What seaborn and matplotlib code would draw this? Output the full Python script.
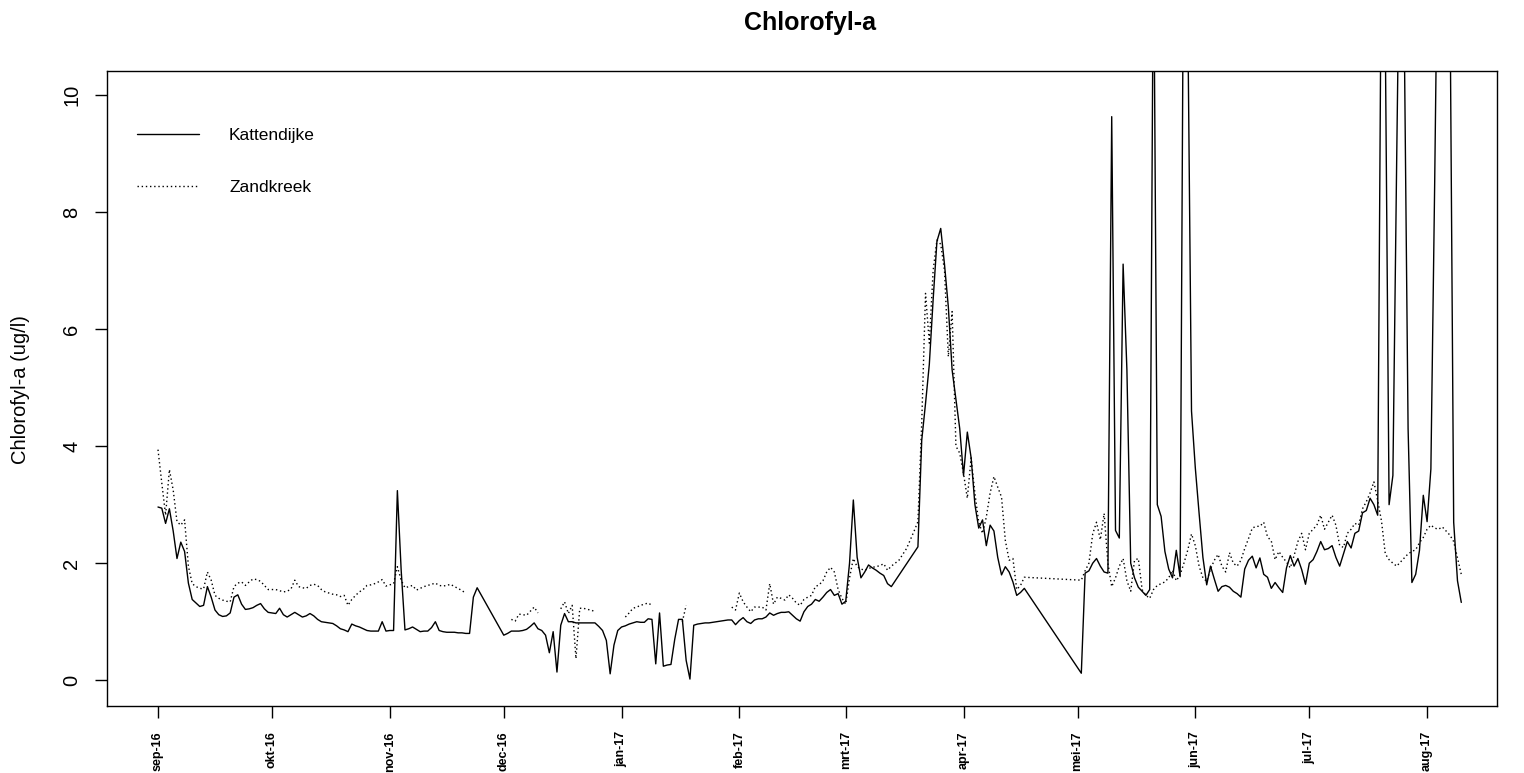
import numpy as np
import pandas as pd
import matplotlib
matplotlib.use("Agg")
import matplotlib.pyplot as plt
import seaborn as sns
from matplotlib.lines import Line2D

# ---------------- data ----------------
start_date = "2016-09-01"

kat_days = list(range(0, 85)) + list(range(91, 194)) + list(range(200, 229)) + list(range(243, 344))
kat_vals = [
    2.96, 2.94, 2.68, 2.93, 2.55, 2.08, 2.36, 2.20, 1.66, 1.38,
    1.32, 1.26, 1.28, 1.60, 1.42, 1.20, 1.12, 1.09, 1.10, 1.15,
    1.42, 1.46, 1.30, 1.21, 1.22, 1.24, 1.28, 1.31, 1.22, 1.16,
    1.15, 1.14, 1.23, 1.12, 1.08, 1.12, 1.16, 1.12, 1.08, 1.10,
    1.14, 1.10, 1.04, 1.00, 0.99, 0.98, 0.97, 0.93, 0.88, 0.86,
    0.83, 0.96, 0.93, 0.91, 0.88, 0.85, 0.84, 0.84, 0.84, 1.00,
    0.84, 0.85, 0.85, 3.24, 1.88, 0.86, 0.88, 0.91, 0.87, 0.83,
    0.84, 0.84, 0.90, 1.00, 0.85, 0.83, 0.82, 0.82, 0.82, 0.81,
    0.81, 0.80, 0.80, 1.42, 1.58,
    # 91 ..
    0.77, 0.80, 0.84, 0.84, 0.84, 0.85, 0.87, 0.92, 0.98, 0.88,
    0.85, 0.77, 0.47, 0.83, 0.14, 0.94, 1.14, 1.00, 1.00, 0.98,
    0.98, 0.98, 0.98, 0.98, 0.98, 0.92, 0.85, 0.68, 0.11, 0.60,
    0.85, 0.91, 0.93, 0.96, 0.98, 1.00, 0.99, 0.99, 1.05, 1.04,
    0.28, 1.15, 0.24, 0.26, 0.27, 0.70, 1.04, 1.04, 0.34, 0.02,
    0.94, 0.96, 0.97, 0.98, 0.98, 0.99, 1.00, 1.01, 1.02, 1.03,
    1.03, 0.95, 1.02, 1.07, 1.00, 0.97, 1.03, 1.05, 1.05, 1.08,
    1.15, 1.11, 1.14, 1.16, 1.16, 1.17, 1.11, 1.05, 1.01, 1.17,
    1.26, 1.30, 1.38, 1.35, 1.42, 1.50, 1.55, 1.45, 1.48, 1.30,
    1.35, 2.00, 3.08, 2.10, 1.75, 1.85, 1.97, 1.92, 1.88, 1.83,
    1.79, 1.65, 1.60,
    # 200 ..
    2.28, 4.10, 4.73, 5.40, 6.50, 7.50, 7.72, 7.10, 6.38, 5.30,
    4.80, 4.30, 3.50, 4.24, 3.80, 3.00, 2.60, 2.74, 2.30, 2.65,
    2.55, 2.10, 1.80, 1.94, 1.85, 1.68, 1.45, 1.50, 1.57,
    # 243 ..
    0.12, 1.83, 1.87, 2.00, 2.08, 1.95, 1.85, 1.83, 9.63, 2.56,
    2.43, 7.11, 5.30, 2.00, 1.75, 1.59, 1.52, 1.45, 1.55, 13.0,
    3.00, 2.80, 2.20, 1.90, 1.75, 2.22, 1.77, 14.0, 11.5, 4.60,
    3.63, 2.85, 2.10, 1.63, 1.95, 1.73, 1.52, 1.60, 1.62, 1.59,
    1.52, 1.48, 1.42, 1.90, 2.05, 2.12, 1.92, 2.09, 1.81, 1.76,
    1.57, 1.67, 1.58, 1.50, 1.92, 2.13, 1.95, 2.08, 1.89, 1.64,
    2.00, 2.06, 2.20, 2.37, 2.23, 2.25, 2.30, 2.10, 1.95, 2.16,
    2.37, 2.26, 2.51, 2.55, 2.86, 2.90, 3.11, 3.00, 2.82, 13.0,
    11.0, 3.00, 3.50, 8.90, 14.0, 11.0, 4.30, 1.67, 1.81, 2.22,
    3.16, 2.71, 3.61, 8.50, 14.0, 15.0, 15.0, 12.0, 2.70, 1.70,
    1.33,
]

nan = np.nan
zk_days = (list(range(0, 83)) + list(range(93, 102)) + list(range(106, 117)) +
           list(range(123, 132)) + list(range(138, 141)) + list(range(151, 229)) +
           list(range(243, 344)))
zk_vals = [
    3.94, 3.37, 2.82, 3.60, 3.25, 2.71, 2.65, 2.74, 1.95, 1.65,
    1.60, 1.57, 1.56, 1.85, 1.71, 1.45, 1.40, 1.37, 1.35, 1.34,
    1.60, 1.66, 1.68, 1.62, 1.68, 1.73, 1.72, 1.69, 1.62, 1.55,
    1.55, 1.55, 1.53, 1.51, 1.52, 1.56, 1.71, 1.60, 1.58, 1.57,
    1.62, 1.64, 1.62, 1.55, 1.51, 1.49, 1.47, 1.46, 1.43, 1.45,
    1.28, 1.38, 1.45, 1.51, 1.55, 1.62, 1.63, 1.65, 1.68, 1.72,
    1.61, 1.63, 1.65, 1.94, 1.71, 1.58, 1.60, 1.62, 1.54, 1.57,
    1.60, 1.62, 1.64, 1.66, 1.62, 1.61, 1.62, 1.64, 1.60, 1.57,
    1.53, 1.49, nan,
    # 93 ..
    1.04, 1.01, 1.13, 1.12, 1.11, 1.18, 1.25, 1.15, nan,
    # 106 ..
    1.22, 1.34, 1.14, 1.28, 0.37, 1.23, 1.23, 1.21, 1.20, 1.17, nan,
    # 123 ..
    1.08, 1.15, 1.23, 1.25, 1.28, 1.30, 1.32, 1.28, nan,
    # 138 ..
    1.00, 1.28, nan,
    # 151 ..
    1.25, 1.20, 1.49, 1.34, 1.25, 1.17, 1.25, 1.25, 1.25, 1.20,
    1.65, 1.30, 1.42, 1.40, 1.37, 1.46, 1.40, 1.32, 1.28, 1.38,
    1.42, 1.45, 1.60, 1.63, 1.70, 1.85, 1.93, 1.85, 1.55, 1.40,
    1.30, 1.75, 2.08, 1.94, 1.90, 1.88, 1.91, 1.93, 1.94, 1.96,
    1.99, 1.88, 1.95, 2.00, 2.05, 2.15, 2.25, 2.40, 2.55, 2.71,
    4.40, 6.61, 5.76, 7.00, 7.52, 7.45, 7.00, 5.53, 6.30, 4.00,
    3.88, 3.53, 3.11, 3.80, 3.19, 2.70, 2.51, 2.79, 3.20, 3.48,
    3.30, 3.13, 2.39, 2.05, 2.08, 1.55, 1.62, 1.76,
    # 243 ..
    1.71, 1.87, 2.00, 2.50, 2.70, 2.40, 2.85, 2.00, 1.60, 1.75,
    1.95, 2.08, 1.70, 1.52, 2.05, 2.08, 1.55, 1.45, 1.40, 1.55,
    1.62, 1.65, 1.68, 1.75, 1.88, 1.70, 1.80, 2.00, 2.22, 2.50,
    2.30, 1.95, 1.75, 1.69, 1.90, 2.05, 2.15, 1.95, 1.85, 2.18,
    2.00, 1.95, 2.05, 2.25, 2.42, 2.60, 2.63, 2.63, 2.70, 2.45,
    2.38, 2.06, 2.20, 2.10, 2.02, 1.92, 2.13, 2.37, 2.51, 2.23,
    2.51, 2.58, 2.65, 2.82, 2.58, 2.70, 2.82, 2.65, 2.30, 2.27,
    2.51, 2.58, 2.68, 2.65, 2.93, 3.05, 3.20, 3.39, 3.07, 2.72,
    2.16, 2.06, 2.00, 1.95, 2.02, 2.09, 2.16, 2.20, 2.23, 2.35,
    2.44, 2.58, 2.65, 2.60, 2.58, 2.62, 2.55, 2.48, 2.37, 2.09,
    1.81,
]

month_labels = ["sep-16", "okt-16", "nov-16", "dec-16", "jan-17", "feb-17",
                "mrt-17", "apr-17", "mei-17", "jun-17", "jul-17", "aug-17"]
y_ticks = [0, 2, 4, 6, 8, 10]
series_names = ["Kattendijke", "Zandkreek"]


def make_frame(days, vals):
    df = pd.DataFrame({
        "date": pd.Timestamp(start_date) + pd.to_timedelta(days, unit="D"),
        "value": np.asarray(vals, dtype=float),
    })
    df["seg"] = df["value"].isna().cumsum()
    return df.dropna()


kat = make_frame(kat_days, kat_vals)
zk = make_frame(zk_days, zk_vals)

# ---------------- plot ----------------
sns.set_theme(style="white")
plt.rcParams["font.family"] = ["Liberation Sans", "DejaVu Sans"]
plt.rcParams.update({
    "text.color": "black",
    "axes.labelcolor": "black",
    "xtick.color": "black",
    "ytick.color": "black",
    "axes.edgecolor": "black",
})

W, H = 1524, 773
fig = plt.figure(figsize=(W / 100, H / 100), dpi=100)
ax = fig.add_axes([107 / W, 1 - 706 / H, (1497 - 107) / W, (706 - 71) / H])

dotted = (0, (1, 2))
sns.lineplot(data=kat, x="date", y="value", units="seg", estimator=None,
             color="black", linewidth=1.0, ax=ax)
sns.lineplot(data=zk, x="date", y="value", units="seg", estimator=None,
             color="black", linewidth=1.0, linestyle=dotted, ax=ax)

t0 = pd.Timestamp(start_date)
ax.set_xlim(t0 + pd.Timedelta(days=-13.42), t0 + pd.Timedelta(days=352.4))
ax.set_ylim(-0.44, 10.41)

month_starts = pd.date_range("2016-09-01", periods=len(month_labels), freq="MS")
ax.set_xticks(month_starts)
ax.set_xticklabels(month_labels, rotation=90, fontsize=9, fontweight="bold",
                   va="top", ha="center", color="black")
ax.set_yticks(y_ticks)
ax.set_yticklabels([str(v) for v in y_ticks], rotation=90, va="center",
                   fontsize=14.5, color="black")

ax.tick_params(axis="both", which="major", direction="out", length=8.6,
               width=1.0, color="black", labelcolor="black",
               bottom=True, left=True, top=False, right=False)
ax.tick_params(axis="x", pad=9.5)
ax.tick_params(axis="y", pad=10)

for s in ax.spines.values():
    s.set_visible(True)
    s.set_color("black")
    s.set_linewidth(1.0)

ax.set_xlabel("")
ax.set_ylabel("")
ax.set_title("Chlorofyl-a", fontsize=18, fontweight="bold", pad=29.5,
             color="black")
ax.title.set_x(0.5058)
fig.text(21 / W, 1 - 390 / H, "Chlorofyl-a (ug/l)", rotation=90,
         ha="center", va="center", fontsize=14.5, color="black")

handles = [Line2D([], [], color="black", lw=1.0, ls="-"),
           Line2D([], [], color="black", lw=1.0, ls=dotted)]
leg = ax.legend(handles, series_names, loc="upper left",
                bbox_to_anchor=(137 / W, 1 - 128 / H),
                bbox_transform=fig.transFigure, frameon=False,
                handlelength=3.57, handletextpad=1.73, labelspacing=2.13,
                fontsize=12.5, borderpad=0, borderaxespad=0)
for t in leg.get_texts():
    t.set_color("black")

fig.savefig("out.png", dpi=100)
